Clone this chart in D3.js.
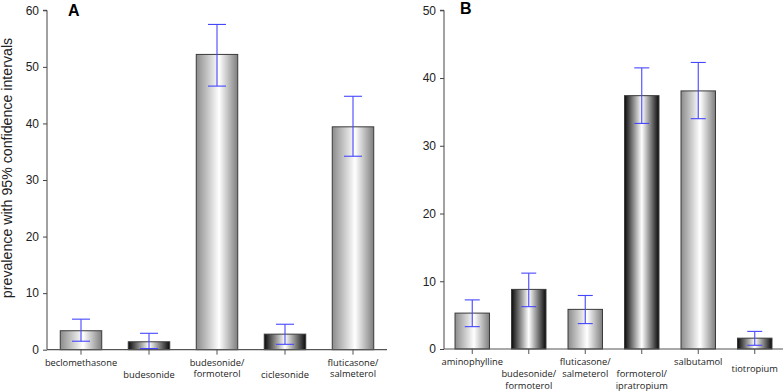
<!DOCTYPE html>
<html>
<head>
<meta charset="utf-8">
<script src="https://cdn.jsdelivr.net/npm/d3@7"></script>
<style>
  body { margin: 0; background: #fff; }
  svg text { font-family: "Liberation Sans", Arial, sans-serif; }
  .xlab { font-family: "Open Sans", "Liberation Sans", sans-serif; font-size: 9.3px; fill: #222; }
</style>
</head>
<body>
<div id="chart"></div>
<script>
// panel A - inhaled corticosteroids
const drugsA = ["beclomethasone", "budesonide", "budesonide/formoterol", "ciclesonide", "fluticasone/salmeterol"];
const prevA = [3.35, 1.4, 52.2, 2.75, 39.4];
const lowA = [1.5, 0.2, 46.6, 0.95, 34.2];
const highA = [5.4, 2.9, 57.5, 4.5, 44.8];
const shadeA = ["light", "dark", "light", "dark", "light"];
const ticksA = [0, 10, 20, 30, 40, 50, 60];

// panel B - bronchodilators
const drugsB = ["aminophylline", "budesonide/formoterol", "fluticasone/salmeterol", "formoterol/ipratropium", "salbutamol", "tiotropium"];
const prevB = [5.3, 8.8, 5.85, 37.4, 38.1, 1.6];
const lowB = [3.3, 6.25, 3.75, 33.3, 34.0, 0.55];
const highB = [7.25, 11.2, 7.9, 41.5, 42.3, 2.6];
const shadeB = ["light", "dark", "light", "dark", "light", "dark"];
const ticksB = [0, 10, 20, 30, 40, 50];

// label vertical placement (rows) for the category text
const rowA = [0, 1, 0, 1, 0];
const rowB = [0, 1, 0, 1, 0, 0.6];

const width = 784, height = 392;
const svg = d3.select("#chart").append("svg").attr("width", width).attr("height", height);

const defs = svg.append("defs");
const light = defs.append("linearGradient").attr("id", "light");
[["0%", "#8c8c8c"], ["55%", "#ffffff"], ["100%", "#7e7e7e"]].forEach(([o, c]) =>
    light.append("stop").attr("offset", o).attr("stop-color", c));
const dark = defs.append("linearGradient").attr("id", "dark");
[["0%", "#0a0a0a"], ["50%", "#ffffff"], ["100%", "#0a0a0a"]].forEach(([o, c]) =>
    dark.append("stop").attr("offset", o).attr("stop-color", c));

function panel(opts) {
    const { drugs, prev, low, high, shade, ticks, row, x0, x1, yTop, yMax, letter, letterX, letterY, cap } = opts;
    const y0 = opts.y0;
    const x = d3.scaleBand().domain(drugs).range([x0, x1]).paddingInner(0.39).paddingOuter(0.195);
    const y = d3.scaleLinear().domain([0, yMax]).range([y0, yTop]);
    const g = svg.append("g");

    // y axis
    const ya = g.append("g").attr("transform", `translate(${x0},0)`)
        .call(d3.axisLeft(y).tickValues(ticks).tickSize(4).tickPadding(4));
    ya.select(".domain").attr("stroke", "#444").attr("d", `M-4,${yTop}H0V${y0}`);
    ya.selectAll(".tick line").attr("stroke", "#444");
    ya.selectAll(".tick text").attr("font-size", 12).attr("fill", "#222")
        .attr("font-family", "Liberation Sans, Arial, sans-serif");

    // bars
    g.selectAll("rect.bar").data(drugs).join("rect")
        .attr("class", "bar")
        .attr("x", d => x(d))
        .attr("width", x.bandwidth())
        .attr("y", (d, i) => y(prev[i]))
        .attr("height", (d, i) => y0 - y(prev[i]))
        .attr("fill", (d, i) => `url(#${shade[i]})`)
        .attr("stroke", "#3a3a3a").attr("stroke-width", 1);

    // x axis baseline + ticks
    g.append("line").attr("x1", x0).attr("x2", x1).attr("y1", y0).attr("y2", y0)
        .attr("stroke", "#555").attr("stroke-width", 1.2);
    g.selectAll("line.xt").data(drugs).join("line")
        .attr("class", "xt")
        .attr("x1", d => x(d) + x.bandwidth() / 2).attr("x2", d => x(d) + x.bandwidth() / 2)
        .attr("y1", y0).attr("y2", y0 + 5)
        .attr("stroke", "#555");

    // error bars
    const eb = g.selectAll("g.err").data(drugs).join("g").attr("class", "err")
        .attr("stroke", "#4646ff").attr("stroke-width", 1.1);
    eb.append("line")
        .attr("x1", d => x(d) + x.bandwidth() / 2).attr("x2", d => x(d) + x.bandwidth() / 2)
        .attr("y1", (d, i) => y(low[i])).attr("y2", (d, i) => y(high[i]));
    eb.append("line")
        .attr("x1", d => x(d) + x.bandwidth() / 2 - cap).attr("x2", d => x(d) + x.bandwidth() / 2 + cap)
        .attr("y1", (d, i) => y(high[i])).attr("y2", (d, i) => y(high[i]));
    eb.append("line")
        .attr("x1", d => x(d) + x.bandwidth() / 2 - cap).attr("x2", d => x(d) + x.bandwidth() / 2 + cap)
        .attr("y1", (d, i) => y(low[i])).attr("y2", (d, i) => y(low[i]));

    // category labels
    g.selectAll("text.xlab").data(drugs).join("text")
        .attr("class", "xlab")
        .attr("text-anchor", "middle")
        .attr("transform", (d, i) => `translate(${x(d) + x.bandwidth() / 2},${y0 + 16 + row[i] * 12})`)
        .each(function (d) {
            const parts = d.includes("/") ? [d.split("/")[0] + "/", d.split("/")[1]] : [d];
            d3.select(this).selectAll("tspan").data(parts).join("tspan")
                .attr("x", 0).attr("dy", (p, k) => k ? 11.5 : 0).text(p => p);
        });

    g.append("text").attr("x", letterX).attr("y", letterY)
        .attr("font-size", 16).attr("font-weight", "bold").attr("fill", "#000").text(letter);
}

panel({ drugs: drugsA, prev: prevA, low: lowA, high: highA, shade: shadeA, ticks: ticksA, row: rowA,
    x0: 47, x1: 387, y0: 349.7, yTop: 10.3, yMax: 60, letter: "A", letterX: 68, letterY: 16, cap: 9 });
panel({ drugs: drugsB, prev: prevB, low: lowB, high: highB, shade: shadeB, ticks: ticksB, row: rowB,
    x0: 444, x1: 783, y0: 349, yTop: 10.3, yMax: 50, letter: "B", letterX: 460, letterY: 13.5, cap: 7.5 });

svg.append("text")
    .attr("transform", "translate(12,168) rotate(-90)")
    .attr("text-anchor", "middle")
    .attr("font-size", 14.2).attr("fill", "#222")
    .text("prevalence with 95% confidence intervals");
</script>
</body>
</html>
